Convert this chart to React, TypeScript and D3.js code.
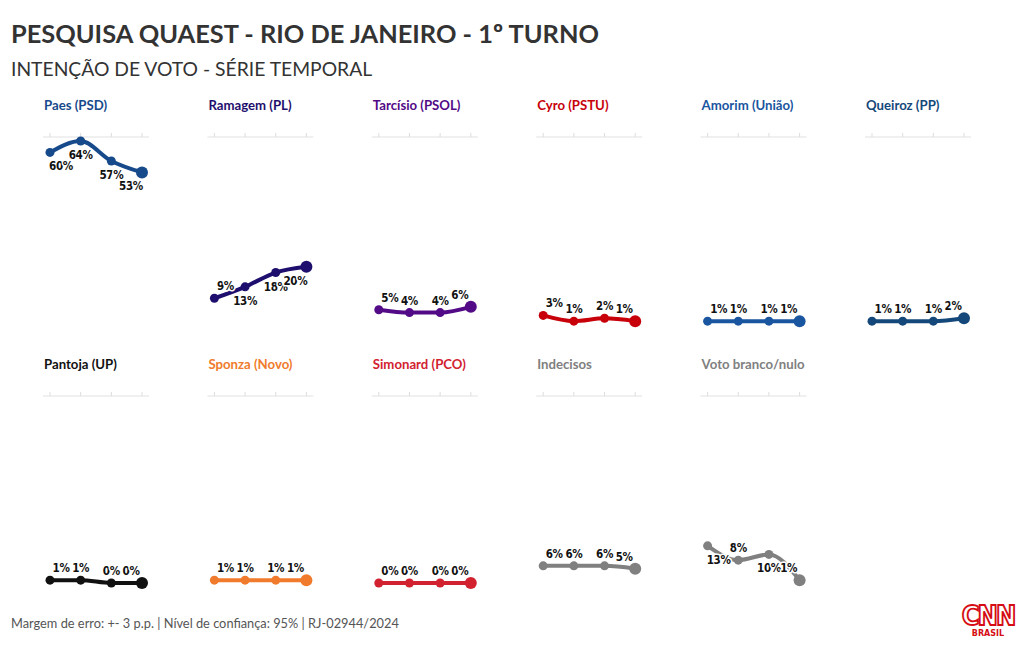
import React from 'react';
import * as d3 from 'd3';

// Poll rounds (not labelled on the chart)
const rounds = ['R1', 'R2', 'R3', 'R4'];

const names = [
  'Paes (PSD)', 'Ramagem (PL)', 'Tarcísio (PSOL)', 'Cyro (PSTU)', 'Amorim (União)', 'Queiroz (PP)',
  'Pantoja (UP)', 'Sponza (Novo)', 'Simonard (PCO)', 'Indecisos', 'Voto branco/nulo',
];

const paes = [60, 64, 57, 53];
const ramagem = [9, 13, 18, 20];
const tarcisio = [5, 4, 4, 6];
const cyro = [3, 1, 2, 1];
const amorim = [1, 1, 1, 1];
const queiroz = [1, 1, 1, 2];
const pantoja = [1, 1, 0, 0];
const sponza = [1, 1, 1, 1];
const simonard = [0, 0, 0, 0];
const indecisos = [6, 6, 6, 5];
const brancoNulo = [13, 8, 10, 1];

const seriesValues = [paes, ramagem, tarcisio, cyro, amorim, queiroz, pantoja, sponza, simonard, indecisos, brancoNulo];

const colors = [
  '#174a8b', '#1e0f6e', '#520a87', '#c8000a', '#1a55a0', '#15487a',
  '#111111', '#f07b2c', '#d22230', '#808080', '#808080',
];

// label side per point: a = above, b = below (repelled labels)
const labelSides = ['bbbb', 'abbb', 'aaaa', 'aaaa', 'aaaa', 'aaaa', 'aaaa', 'aaaa', 'aaaa', 'aaaa', 'baba'];

const COLS = 6;
const PANEL_H = 187;

export default function App() {
  const width = 1020;
  const height = 650;

  const colX = d3.scaleLinear().domain([0, COLS - 1]).range([44, 866]);
  const rowY = d3.scaleLinear().domain([0, 1]).range([137, 396]);
  const x = d3.scalePoint<string>().domain(rounds).range([6, 98]);
  const y = d3.scaleLinear().domain([0, 64]).range([PANEL_H, 4]);

  const line = d3.line<number>()
    .x((_, i) => x(rounds[i]) as number)
    .y(d => y(d))
    .curve(d3.curveMonotoneX);

  const labelFont = '"DejaVu Sans Condensed", "DejaVu Sans", sans-serif';
  const mainFont = 'Lato, "Open Sans", sans-serif';

  return (
    <svg width={width} height={height} style={{ position: 'absolute', left: 0, top: 0, background: '#fff' }}>
      <text x={11} y={43} fontFamily={mainFont} fontWeight={700} fontSize={25.4} fill="#333">
        PESQUISA QUAEST - RIO DE JANEIRO - 1º TURNO
      </text>
      <text x={11} y={76} fontFamily={mainFont} fontSize={19.3} fill="#333">
        INTENÇÃO DE VOTO - SÉRIE TEMPORAL
      </text>

      {names.map((name, k) => {
        const col = k % COLS;
        const row = Math.floor(k / COLS);
        const vals = seriesValues[k];
        const color = colors[k];
        const sides = labelSides[k];
        return (
          <g key={name} transform={`translate(${colX(col)},${rowY(row)})`}>
            <text x={0} y={-27} fontFamily={mainFont} fontWeight={700} fontSize={13.2} fill={color}>
              {name}
            </text>
            <line x1={-1} x2={105} y1={0} y2={0} stroke="#ebebeb" strokeWidth={1.5} />
            {rounds.map(r => (
              <line key={r} x1={x(r)} x2={x(r)} y1={-4} y2={0} stroke="#dddddd" strokeWidth={1} />
            ))}
            <path d={line(vals) || ''} fill="none" stroke={color} strokeWidth={4} strokeLinecap="round" />
            {vals.map((v, i) => (
              <circle key={i} cx={x(rounds[i])} cy={y(v)} r={i === vals.length - 1 ? 6 : 4.5} fill={color} />
            ))}
            {vals.map((v, i) => {
              const below = sides[i] === 'b';
              const dx = i === 0 ? 11 : i === vals.length - 1 ? -11 : 0;
              const dy = below ? 18 : -8;
              return (
                <text
                  key={'l' + i}
                  x={(x(rounds[i]) as number) + dx}
                  y={y(v) + dy}
                  textAnchor="middle"
                  fontFamily={labelFont}
                  fontWeight={700}
                  fontSize={11.6}
                  letterSpacing={-0.4}
                  fill="#111"
                  stroke="#fff"
                  strokeWidth={3}
                  paintOrder="stroke"
                  strokeLinejoin="round"
                >
                  {v}%
                </text>
              );
            })}
          </g>
        );
      })}

      <text x={11} y={628} fontFamily={mainFont} fontSize={12.8} fill="#555">
        Margem de erro: +- 3 p.p. | Nível de confiança: 95% | RJ-02944/2024
      </text>

      <g transform="translate(988,0)">
        <text x={0} y={625} textAnchor="middle" fontFamily='"Liberation Sans Narrow", "DejaVu Sans Condensed", sans-serif'
          fontWeight={700} fontSize={27} fill="#fff" stroke="#d50c14" strokeWidth={1.8} letterSpacing={-2}>
          CNN
        </text>
        <text x={0} y={636} textAnchor="middle" fontFamily='"DejaVu Sans", sans-serif' fontWeight={700} fontSize={8} fill="#d50c14">
          BRASIL
        </text>
      </g>
    </svg>
  );
}
